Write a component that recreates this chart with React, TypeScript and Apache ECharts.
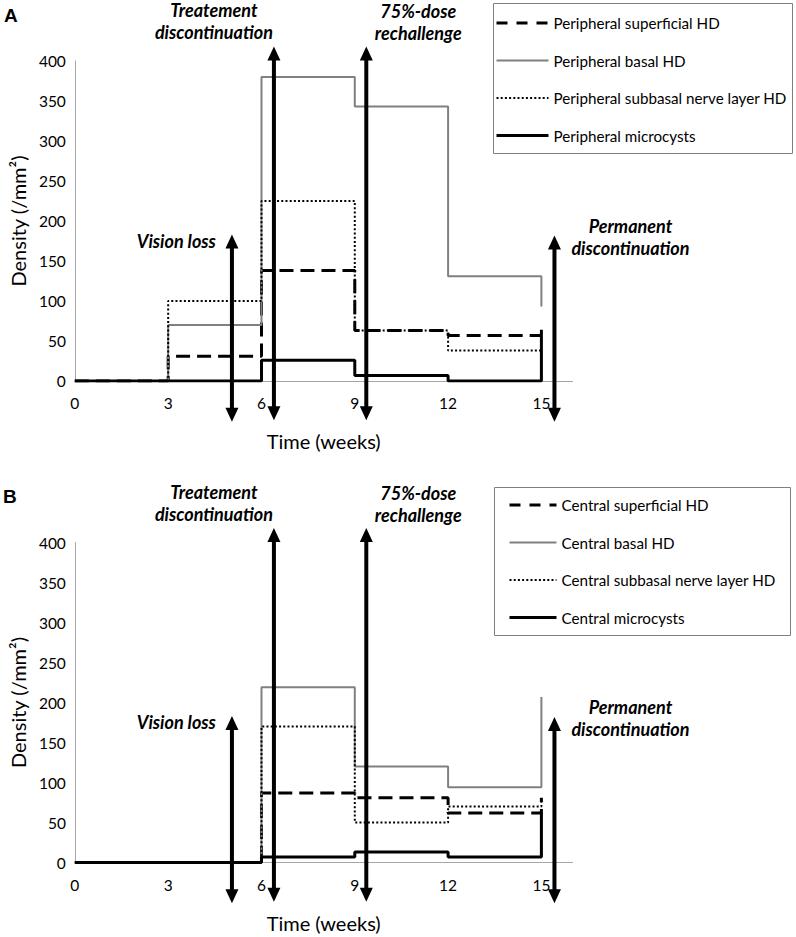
import React, { useEffect, useRef } from "react";
import * as echarts from "echarts";

// ---- data ----
const weeks = [0, 3, 6, 9, 12, 15];

const peripheralNames = [
  "Peripheral superficial HD",
  "Peripheral basal HD",
  "Peripheral subbasal nerve layer HD",
  "Peripheral microcysts",
];
const peripheralSuperficial = [0, 31, 138, 63, 57, 57];
const peripheralBasal = [0, 70, 380, 343, 131, 93];
const peripheralSubbasal = [0, 100, 225, 63, 38, 38];
const peripheralMicrocysts = [0, 0, 26, 7, 0, 64];

const centralNames = [
  "Central superficial HD",
  "Central basal HD",
  "Central subbasal nerve layer HD",
  "Central microcysts",
];
const centralSuperficial = [0, 0, 87, 81, 62, 81];
const centralBasal = [0, 0, 219, 120, 94, 207];
const centralSubbasal = [0, 0, 170, 50, 70, 80];
const centralMicrocysts = [0, 0, 7, 13, 7, 62];

// events (arrows): week position, top and bottom of the arrow in density units
const eventLabels = [
  "Vision loss",
  "Treatement\ndiscontinuation",
  "75%-dose\nrechallenge",
  "Permanent\ndiscontinuation",
];
const eventWeeks = [5.05, 6.4, 9.37, 15.42];
const eventTops = [183, 418, 418, 182];
const eventBottoms = [-51, -49, -49, -51];

const panelLetters = ["A", "B"];
const xLabel = "Time (weeks)";
const yLabel = "Density (/mm²)";

// ---- styles ----
const FONT = "Lato, 'Open Sans', sans-serif";
const GRAY = "#808080";
const seriesStyles = [
  { color: "#000", width: 3, type: [14, 7] as any },
  { color: GRAY, width: 2, type: "solid" as any },
  { color: "#000", width: 2, type: [2, 2.2] as any },
  { color: "#000", width: 3, type: "solid" as any },
];
const legendLineTypes = [[11, 9], "solid", [2, 2.2], "solid"];

function makeSeries(names: string[], values: number[][], gi: number) {
  return names.map((name, i) => ({
    name,
    type: "line",
    xAxisIndex: gi,
    yAxisIndex: gi,
    step: "end",
    symbol: "none",
    silent: true,
    data: weeks.map((w, k) => [w, values[i][k]]),
    lineStyle: { ...seriesStyles[i] },
    itemStyle: { color: seriesStyles[i].color },
    z: 2 + i,
  }));
}

function legendData(names: string[]) {
  return names.map((name, i) => ({
    name,
    lineStyle: { type: legendLineTypes[i], width: seriesStyles[i].width, color: seriesStyles[i].color },
  }));
}

export default function App() {
  const ref = useRef<HTMLDivElement>(null);

  useEffect(() => {
    document.body.style.margin = "0";
    if (!ref.current) return;
    const chart = echarts.init(ref.current, null, { renderer: "svg" });

    const gridTops = [61, 542.5];
    const axisCommon = (gi: number) => ({
      x: {
        type: "value",
        gridIndex: gi,
        min: 0,
        max: 16,
        interval: 3,
        name: xLabel,
        nameLocation: "middle",
        nameGap: 50,
        nameTextStyle: { fontFamily: FONT, fontSize: 20, color: "#000" },
        axisLine: { show: true, lineStyle: { color: "#a6a6a6", width: 1 } },
        axisTick: { show: false },
        splitLine: { show: false },
        axisLabel: {
          fontFamily: FONT,
          fontSize: 15.5,
          color: "#000",
          margin: 14,
          formatter: (v: number) => (v % 3 === 0 ? String(v) : ""),
        },
      },
      y: {
        type: "value",
        gridIndex: gi,
        min: 0,
        max: 400,
        interval: 50,
        name: yLabel,
        nameLocation: "middle",
        nameRotate: 90,
        nameGap: 46,
        nameTextStyle: { fontFamily: FONT, fontSize: 20, color: "#000" },
        axisLine: { show: true, lineStyle: { color: "#a6a6a6", width: 1 } },
        axisTick: { show: false },
        splitLine: { show: false },
        axisLabel: { fontFamily: FONT, fontSize: 15.5, color: "#000", margin: 9 },
      },
    });

    const a0 = axisCommon(0);
    const a1 = axisCommon(1);

    const legendCommon = {
      orient: "vertical",
      selectedMode: false,
      itemHeight: 14,
      itemGap: 19.5,
      padding: 0,
      itemStyle: { opacity: 0 },
      textStyle: { fontFamily: FONT, fontSize: 15.2, color: "#000", lineHeight: 18 },
    };

    const option: any = {
      animation: false,
      backgroundColor: "#fff",
      grid: gridTops.map((t) => ({ left: 69, top: t, width: 503.5, height: 320 })),
      xAxis: [a0.x, a1.x],
      yAxis: [a0.y, a1.y],
      legend: [
        { ...legendCommon, left: 495, top: 14, itemWidth: 52, data: legendData(peripheralNames) },
        { ...legendCommon, left: 508, top: 496, itemWidth: 47, data: legendData(centralNames) },
      ],
      series: [
        ...makeSeries(
          peripheralNames,
          [peripheralSuperficial, peripheralBasal, peripheralSubbasal, peripheralMicrocysts],
          0
        ),
        ...makeSeries(
          centralNames,
          [centralSuperficial, centralBasal, centralSubbasal, centralMicrocysts],
          1
        ),
      ],
    };
    chart.setOption(option);

    // annotations: arrows and event labels, positioned through the axes
    const graphics: any[] = [
      {
        type: "rect",
        shape: { x: 493.5, y: 3.5, width: 299, height: 150 },
        style: { fill: "none", stroke: "#7f7f7f", lineWidth: 1 },
        z: 1,
      },
      {
        type: "rect",
        shape: { x: 494.5, y: 487.5, width: 296, height: 148 },
        style: { fill: "none", stroke: "#7f7f7f", lineWidth: 1 },
        z: 1,
      },
      {
        type: "text",
        style: { text: panelLetters[0], x: 4, y: 15, fill: "#000", font: "bold 19px 'Liberation Sans', Arial, sans-serif", verticalAlign: "middle" },
      },
      {
        type: "text",
        style: { text: panelLetters[1], x: 3, y: 496, fill: "#000", font: "bold 19px 'Liberation Sans', Arial, sans-serif", verticalAlign: "middle" },
      },
    ];

    const labelFont = `italic bold 18px ${FONT}`;
    [0, 1].forEach((gi) => {
      eventWeeks.forEach((w, i) => {
        const top = chart.convertToPixel({ gridIndex: gi } as any, [w, eventTops[i]]) as number[];
        const bot = chart.convertToPixel({ gridIndex: gi } as any, [w, eventBottoms[i]]) as number[];
        const x = top[0];
        const yt = top[1];
        const yb = bot[1];
        const hl = 14;
        const hw = 6.5;
        graphics.push({
          type: "line",
          shape: { x1: x, y1: yt + hl - 1, x2: x, y2: yb - hl + 1 },
          style: { stroke: "#000", lineWidth: 4 },
          z: 10,
        });
        graphics.push({
          type: "polygon",
          shape: { points: [[x, yt], [x - hw, yt + hl], [x + hw, yt + hl]] },
          style: { fill: "#000" },
          z: 10,
        });
        graphics.push({
          type: "polygon",
          shape: { points: [[x, yb], [x - hw, yb - hl], [x + hw, yb - hl]] },
          style: { fill: "#000" },
          z: 10,
        });
        let lx = x;
        let ly = yt;
        let align = "center";
        if (i === 0) {
          lx = x - 16;
          ly = yt + 6;
          align = "right";
        } else if (i === 1) {
          lx = x - 60;
          ly = yt - 25.5;
        } else if (i === 2) {
          lx = x + 52;
          ly = yt - 24.5;
        } else {
          lx = x + 76;
          ly = yt + 1.5;
        }
        graphics.push({
          type: "text",
          style: {
            text: eventLabels[i],
            x: lx,
            y: ly,
            fill: "#000",
            font: labelFont,
            align,
            verticalAlign: "middle",
            lineHeight: 22,
          },
          z: 11,
        });
      });
    });

    chart.setOption({ graphic: graphics });

    return () => chart.dispose();
  }, []);

  return <div ref={ref} style={{ width: 796, height: 937 }} />;
}
